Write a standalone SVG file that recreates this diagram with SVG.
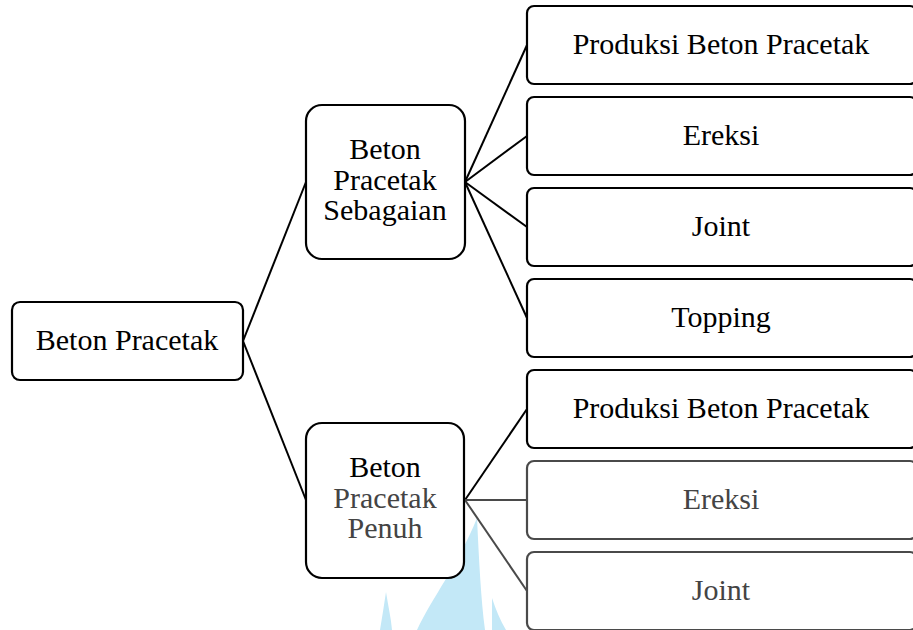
<svg xmlns="http://www.w3.org/2000/svg" width="913" height="630" viewBox="0 0 913 630">
<style>
.box{fill:#fff;stroke:#000;stroke-width:2.2}
.gbox{fill:#fff;stroke:#4a4a4a;stroke-width:2.2}
.t{font-family:"Liberation Serif","Times New Roman",serif;font-size:30px;fill:#000;text-anchor:middle}
.g{fill:#444}
.c{stroke:#000;stroke-width:2;fill:none}
.gc{stroke:#4a4a4a;stroke-width:2;fill:none}
.wm{fill:#c3e8f7}
</style>
<rect width="913" height="630" fill="#fff"/>
<g id="watermark">
<path class="wm" d="M477,518 C479,560 481,600 485,630 L417,630 C432,598 458,565 477,518 Z"/>
<path class="wm" d="M386,592 C388,605 391,618 392,630 L380,630 C382,618 384,605 386,592 Z"/>
<path class="wm" d="M492,598 C496,610 500,620 506,630 L492,630 Z"/>
</g>
<g id="connectors">
<line class="c" x1="243" y1="341" x2="306" y2="182"/>
<line class="c" x1="243" y1="341" x2="306" y2="500"/>
<line class="c" x1="465" y1="182" x2="527" y2="45"/>
<line class="c" x1="465" y1="182" x2="527" y2="136"/>
<line class="c" x1="465" y1="182" x2="527" y2="227"/>
<line class="c" x1="465" y1="182" x2="527" y2="318"/>
<line class="c" x1="465" y1="500" x2="527" y2="409"/>
<line class="gc" x1="465" y1="500" x2="527" y2="500"/>
<line class="gc" x1="465" y1="500" x2="527" y2="591"/>
</g>
<g id="root">
<rect class="box" x="12" y="302" width="231" height="78" rx="8"/>
<text class="t" x="127" y="350">Beton Pracetak</text>
</g>
<g id="sebagaian">
<rect class="box" x="306" y="105" width="159" height="154" rx="16"/>
<text class="t" x="385" y="159">Beton</text>
<text class="t" x="385" y="190">Pracetak</text>
<text class="t" x="385" y="220">Sebagaian</text>
</g>
<g id="penuh">
<rect class="box" x="306" y="423" width="158" height="155" rx="16"/>
<text class="t" x="385" y="477">Beton</text>
<text class="t g" x="385" y="508">Pracetak</text>
<text class="t g" x="385" y="538">Penuh</text>
</g>
<g id="s-produksi">
<rect class="box" x="527" y="6" width="390" height="78" rx="7"/>
<text class="t" x="721" y="54">Produksi Beton Pracetak</text>
</g>
<g id="s-ereksi">
<rect class="box" x="527" y="97" width="390" height="78" rx="7"/>
<text class="t" x="721" y="145">Ereksi</text>
</g>
<g id="s-joint">
<rect class="box" x="527" y="188" width="390" height="78" rx="7"/>
<text class="t" x="721" y="236">Joint</text>
</g>
<g id="s-topping">
<rect class="box" x="527" y="279" width="390" height="78" rx="7"/>
<text class="t" x="721" y="327">Topping</text>
</g>
<g id="p-produksi">
<rect class="box" x="527" y="370" width="390" height="78" rx="7"/>
<text class="t" x="721" y="418">Produksi Beton Pracetak</text>
</g>
<g id="p-ereksi">
<rect class="gbox" x="527" y="461" width="390" height="78" rx="7"/>
<text class="t g" x="721" y="509">Ereksi</text>
</g>
<g id="p-joint">
<rect class="gbox" x="527" y="552" width="390" height="78" rx="7"/>
<text class="t g" x="721" y="600">Joint</text>
</g>
</svg>
